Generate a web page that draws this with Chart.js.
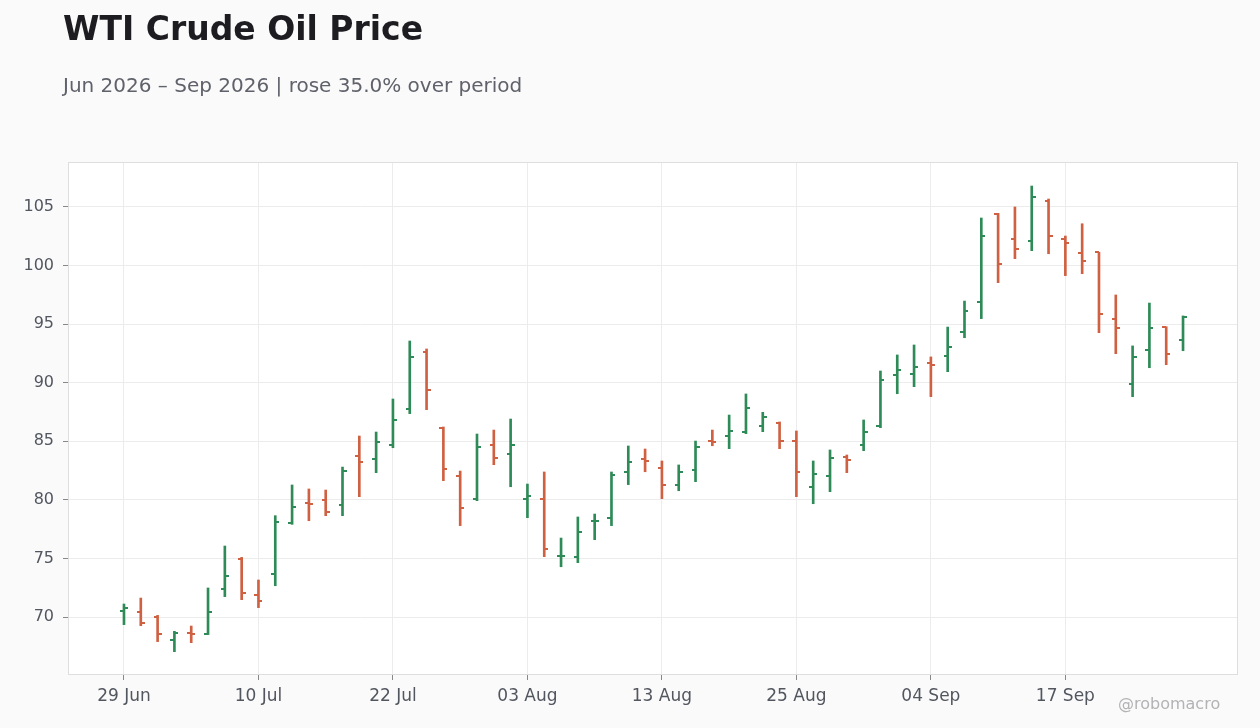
<!DOCTYPE html>
<html>
<head>
<meta charset="utf-8">
<script src="https://cdn.jsdelivr.net/npm/chart.js@4.4.1/dist/chart.umd.min.js"></script>
<style>
  html, body { margin: 0; padding: 0; background: #fafafa; }
  body { width: 1260px; height: 728px; position: relative; overflow: hidden; font-family: "DejaVu Sans", sans-serif; }
  #title { position: absolute; left: 63px; top: 9px; font-size: 33px; font-weight: bold; color: #1c1c21; }
  #subtitle { position: absolute; left: 63px; top: 73px; font-size: 20px; color: #60626b; }
  #credit { position: absolute; left: 1118px; top: 694px; font-size: 16px; color: #b3b3b6; }
  #wrap { position: absolute; left: 0; top: 0; width: 1260px; height: 728px; }
  canvas { display: block; }
</style>
</head>
<body>
<div id="wrap"><canvas id="chart" width="1260" height="728"></canvas></div>
<div id="title">WTI Crude Oil Price</div>
<div id="subtitle">Jun 2026 – Sep 2026 | rose 35.0% over period</div>
<div id="credit">@robomacro</div>
<script>
// trading days (Jul 3 and Sep 7 are holidays)
const dates = [
  "29 Jun", "30 Jun", "01 Jul", "02 Jul", "06 Jul", "07 Jul", "08 Jul", "09 Jul",
  "10 Jul", "13 Jul", "14 Jul", "15 Jul", "16 Jul", "17 Jul", "20 Jul", "21 Jul",
  "22 Jul", "23 Jul", "24 Jul", "27 Jul", "28 Jul", "29 Jul", "30 Jul", "31 Jul",
  "03 Aug", "04 Aug", "05 Aug", "06 Aug", "07 Aug", "10 Aug", "11 Aug", "12 Aug",
  "13 Aug", "14 Aug", "17 Aug", "18 Aug", "19 Aug", "20 Aug", "21 Aug", "24 Aug",
  "25 Aug", "26 Aug", "27 Aug", "28 Aug", "31 Aug", "01 Sep", "02 Sep", "03 Sep",
  "04 Sep", "08 Sep", "09 Sep", "10 Sep", "11 Sep", "14 Sep", "15 Sep", "16 Sep",
  "17 Sep", "18 Sep", "21 Sep", "22 Sep", "23 Sep", "24 Sep", "25 Sep", "28 Sep"
];

const openPx = [
  70.54, 70.46, 70.03, 68.06, 68.63, 68.55, 72.42, 74.98,
  71.90, 73.70, 78.05, 79.76, 79.99, 79.59, 83.77, 83.51,
  84.68, 87.78, 92.65, 86.16, 82.06, 80.10, 84.71, 83.94,
  80.07, 80.10, 75.20, 75.15, 78.18, 78.48, 82.40, 83.51,
  82.75, 81.30, 82.57, 85.05, 85.48, 85.82, 86.33, 86.59,
  85.05, 81.12, 82.06, 83.69, 84.71, 86.33, 90.69, 90.77,
  91.71, 92.31, 94.36, 96.92, 104.43, 102.30, 102.12, 105.54,
  102.30, 101.10, 101.13, 95.47, 89.92, 92.82, 94.78, 93.67
];
const highPx = [
  71.11, 71.62, 70.14, 68.78, 69.23, 72.48, 76.06, 75.09,
  73.16, 78.65, 81.27, 80.93, 80.84, 82.80, 85.45, 85.79,
  88.61, 93.56, 92.88, 86.22, 82.46, 85.62, 85.96, 86.90,
  81.35, 82.38, 76.74, 78.54, 78.79, 82.38, 84.60, 84.34,
  83.32, 82.98, 85.02, 85.96, 87.24, 89.04, 87.47, 86.65,
  85.88, 83.32, 84.26, 83.83, 86.82, 91.00, 92.37, 93.22,
  92.20, 94.75, 96.97, 104.06, 104.46, 105.00, 106.79, 105.68,
  102.52, 103.57, 101.13, 97.49, 93.14, 96.80, 94.78, 95.70
];
const lowPx = [
  69.35, 69.26, 67.90, 67.04, 67.81, 68.50, 71.74, 71.48,
  70.80, 72.67, 77.91, 78.22, 78.65, 78.65, 80.27, 82.32,
  84.45, 87.36, 87.70, 81.64, 77.80, 79.93, 83.00, 81.12,
  78.48, 75.15, 74.29, 74.64, 76.60, 77.80, 81.30, 82.40,
  80.10, 80.78, 81.55, 84.62, 84.37, 85.65, 85.82, 84.37,
  80.27, 79.67, 80.70, 82.32, 84.20, 86.16, 89.06, 89.66,
  88.81, 90.94, 93.84, 95.47, 98.54, 100.59, 101.27, 101.01,
  99.14, 99.31, 94.27, 92.48, 88.81, 91.28, 91.54, 92.73
];
const closePx = [
  70.80, 69.49, 68.58, 68.66, 68.55, 70.46, 73.53, 72.07,
  71.39, 78.11, 79.42, 79.67, 78.99, 82.49, 83.26, 84.97,
  86.84, 92.22, 89.38, 82.66, 79.33, 84.54, 83.60, 84.71,
  80.36, 75.83, 75.25, 77.28, 78.22, 82.15, 83.26, 83.34,
  81.30, 82.40, 84.54, 84.97, 85.90, 87.87, 87.10, 85.05,
  82.40, 82.23, 83.60, 83.43, 85.82, 90.26, 91.12, 91.37,
  91.54, 93.07, 96.15, 102.55, 100.16, 101.42, 105.88, 102.55,
  101.95, 100.42, 95.87, 94.67, 92.20, 94.70, 92.48, 95.64
];

const yTicks = [70, 75, 80, 85, 90, 95, 100, 105];
const xTickEvery = 8;

const UP = "#2e8b57";
const DOWN = "#cf6142";
const barColors = openPx.map((o, i) => closePx[i] >= o ? UP : DOWN);

// white plot area + frame
const plotFrame = {
  id: "plotFrame",
  beforeDraw(chart) {
    const { ctx, chartArea: a } = chart;
    ctx.save();
    ctx.fillStyle = "#ffffff";
    ctx.fillRect(a.left, a.top, a.right - a.left, a.bottom - a.top);
    ctx.restore();
  },
  afterDraw(chart) {
    const { ctx, chartArea: a } = chart;
    ctx.save();
    ctx.strokeStyle = "#dedede";
    ctx.lineWidth = 1;
    ctx.strokeRect(a.left + 0.5, a.top + 0.5, a.right - a.left - 1, a.bottom - a.top - 1);
    ctx.restore();
  }
};

// open / close ticks on each bar
const ohlcTicks = {
  id: "ohlcTicks",
  afterDatasetsDraw(chart) {
    const ctx = chart.ctx;
    const xs = chart.scales.x, ys = chart.scales.y;
    ctx.save();
    openPx.forEach((o, i) => {
      const x = Math.round(xs.getPixelForValue(i));
      ctx.fillStyle = barColors[i];
      ctx.fillRect(x - 4, Math.round(ys.getPixelForValue(o)) - 1, 4, 2);
      ctx.fillRect(x, Math.round(ys.getPixelForValue(closePx[i])) - 1, 4, 2);
    });
    ctx.restore();
  }
};

new Chart(document.getElementById("chart"), {
  type: "bar",
  data: {
    datasets: [{
      data: dates.map((d, i) => ({ x: i, y: [lowPx[i], highPx[i]] })),
      backgroundColor: barColors,
      borderWidth: 0,
      barThickness: 2
    }]
  },
  options: {
    responsive: false,
    animation: false,
    events: [],
    devicePixelRatio: 1,
    layout: { padding: { top: 162, right: 22, left: 0, bottom: 0 } },
    plugins: { legend: { display: false }, tooltip: { enabled: false } },
    scales: {
      x: {
        type: "linear",
        min: -3.33,
        max: 66.27,
        offset: false,
        afterBuildTicks(scale) {
          scale.ticks = dates.map((d, i) => i).filter(i => i % xTickEvery === 0).map(v => ({ value: v }));
        },
        afterFit(scale) { scale.height = 53; },
        ticks: {
          autoSkip: false,
          maxRotation: 0,
          padding: 6,
          color: "#52565f",
          font: { family: "DejaVu Sans", size: 17 },
          callback: v => dates[v]
        },
        grid: { offset: false, color: "#ececec", tickColor: "#888888", tickLength: 5, drawOnChartArea: true },
        border: { display: false }
      },
      y: {
        min: 65.05,
        max: 108.84,
        afterBuildTicks(scale) {
          scale.ticks = yTicks.map(v => ({ value: v }));
        },
        afterFit(scale) { scale.width = 68; },
        ticks: {
          padding: 9,
          color: "#52565f",
          font: { family: "DejaVu Sans", size: 16 }
        },
        grid: { color: "#ececec", tickColor: "#888888", tickLength: 5 },
        border: { display: false }
      }
    }
  },
  plugins: [plotFrame, ohlcTicks]
});
</script>
</body>
</html>
